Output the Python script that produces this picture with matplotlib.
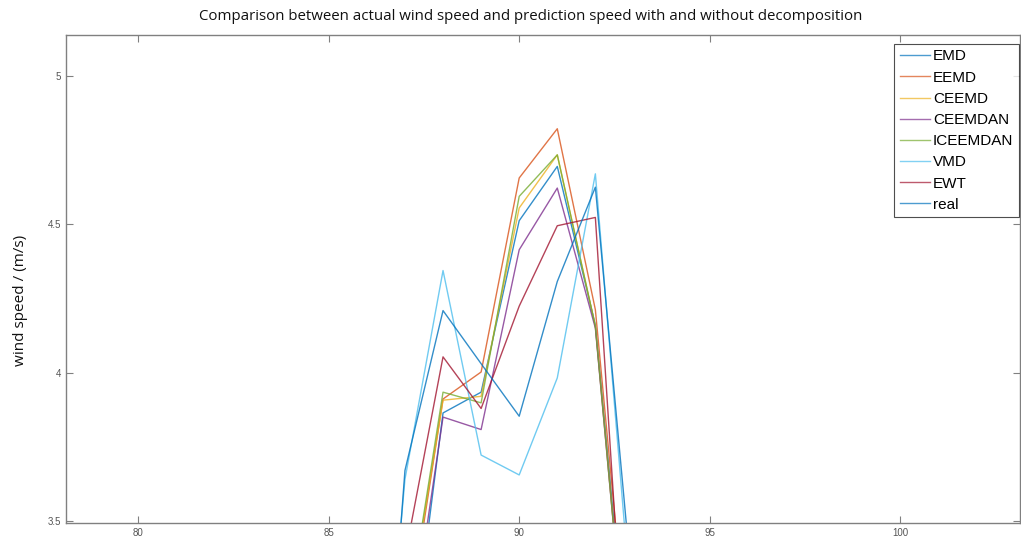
import matplotlib
matplotlib.use("Agg")
import matplotlib.pyplot as plt

x = [86, 87, 88, 89, 90, 91, 92, 93]
series_names = ["EMD", "EEMD", "CEEMD", "CEEMDAN", "ICEEMDAN", "VMD", "EWT", "real"]
emd      = [2.40, 2.86, 3.864, 3.934, 4.512, 4.695, 4.16, 2.80]
eemd     = [2.50, 3.08, 3.911, 4.002, 4.656, 4.822, 4.212, 2.85]
ceemd    = [2.50, 3.12, 3.907, 3.920, 4.555, 4.734, 4.156, 2.75]
ceemdan  = [2.40, 2.98, 3.850, 3.808, 4.414, 4.622, 4.150, 2.75]
iceemdan = [2.50, 3.12, 3.934, 3.898, 4.594, 4.734, 4.156, 2.75]
vmd      = [2.20, 3.64, 4.344, 3.722, 3.655, 3.982, 4.670, 3.12]
ewt      = [2.60, 3.38, 4.053, 3.879, 4.224, 4.495, 4.523, 2.54]
real     = [1.95, 3.67, 4.209, 4.030, 3.853, 4.307, 4.625, 3.23]
values = [emd, eemd, ceemd, ceemdan, iceemdan, vmd, ewt, real]
colors = ["#0072BD", "#D95319", "#EDB120", "#7E2F8E", "#77AC30", "#4DBEEE", "#A2142F", "#0072BD"]

xticks = [80, 85, 90, 95, 100]
yticks = [3.5, 4, 4.5, 5]

fig = plt.figure(figsize=(10.21, 5.48), dpi=100)
ax = fig.add_axes([66/1021, 1-523/548, (1020-66)/1021, (523-35)/548])
for name, v, c in zip(series_names, values, colors):
    ax.plot(x, v, color=c, lw=1.0, alpha=0.8, label=name)

ax.set_xlim(78.1, 103.15)
ax.set_ylim(3.493, 5.138)
ax.set_xticks(xticks)
ax.set_xticklabels([str(t) for t in xticks])
ax.set_yticks(yticks)
ax.set_yticklabels(["3.5", "4", "4.5", "5"])
ax.tick_params(direction="in", length=5, width=0.8, colors="#808080", labelsize=7,
               top=True, right=True, labelcolor="#555555")
for lab in ax.get_xticklabels() + ax.get_yticklabels():
    lab.set_family("Liberation Sans")
for s in ax.spines.values():
    s.set_color("#808080")
    s.set_linewidth(1.0)

fig.text(20/1021, 1-300/548, "wind speed / (m/s)", rotation=90, ha="center", va="center",
         fontsize=11, family="Open Sans", color="#111111")
fig.text(531/1021, 1-16/548, "Comparison between actual wind speed and prediction speed with and without decomposition",
         ha="center", va="center", fontsize=10.8, family="Open Sans", color="#111111")

leg = fig.legend(loc="upper left", bbox_to_anchor=(894/1021, 1-44/548),
                 prop={"family": "Liberation Sans", "size": 11},
                 frameon=True, fancybox=False, handlelength=2.0, handletextpad=0.2,
                 labelspacing=0.47, borderpad=0.36, borderaxespad=0)
leg.get_frame().set_edgecolor("#222222")
leg.get_frame().set_linewidth(0.8)
for h in leg.get_lines():
    h.set_alpha(0.7)

fig.savefig("out.png", dpi=100)
